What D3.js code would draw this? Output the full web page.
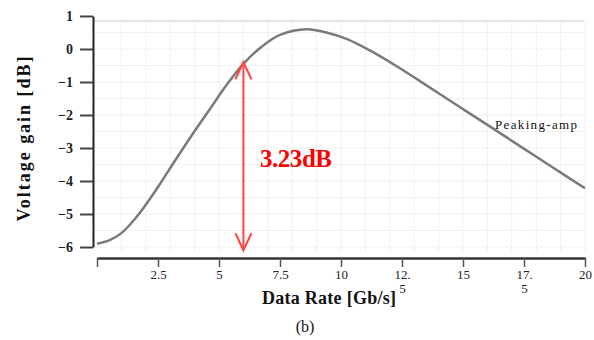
<!DOCTYPE html>
<html>
<head>
<meta charset="utf-8">
<script src="https://cdn.jsdelivr.net/npm/d3@7"></script>
<style>
  body { margin: 0; background: #fff; }
  svg { display: block; }
  svg text { font-family: "Liberation Serif", "DejaVu Serif", serif; }
</style>
</head>
<body>
<svg id="chart" width="594" height="340"></svg>
<script>
// data
const rate = [0, 0.5, 1, 1.4, 1.75, 2.5, 3.2, 3.9, 4.6, 5.3, 6.0, 6.8, 7.5, 8.6, 9.4, 10.25, 11.2, 12.3, 13.25, 14.6, 16, 17.35, 18.7, 20];
const gain = [-5.9, -5.8, -5.58, -5.28, -4.97, -4.18, -3.38, -2.6, -1.85, -1.1, -0.45, 0.1, 0.43, 0.6, 0.5, 0.3, -0.05, -0.53, -0.98, -1.63, -2.3, -2.95, -3.6, -4.22];
const xTicks = [0, 2.5, 5, 7.5, 10, 12.5, 15, 17.5, 20];
const xTickLabels = ["", "2.5", "5", "7.5", "10", "12.|5", "15", "17.|5", "20"];
const yTicks = [1, 0, -1, -2, -3, -4, -5, -6];
const arrowX = 6.0;
const arrowY = [-0.4, -6.1];

const svg = d3.select("#chart");

const x = d3.scaleLinear().domain([0, 20]).range([97, 585]);
const y = d3.scaleLinear().domain([-6, 1]).range([247, 16]);

// grid
const grid = svg.append("g");
grid.selectAll("line.v")
  .data(d3.range(1, 21))
  .enter().append("line")
    .attr("x1", d => x(d)).attr("x2", d => x(d))
    .attr("y1", 21).attr("y2", 252)
    .attr("stroke", "#f0f0f0");
grid.selectAll("line.h")
  .data(d3.range(-6, 1, 0.5))
  .enter().append("line")
    .attr("x1", 95).attr("x2", 584)
    .attr("y1", d => y(d)).attr("y2", d => y(d))
    .attr("stroke", "#f0f0f0");
grid.append("line")
  .attr("x1", 95).attr("x2", 584)
  .attr("y1", 21).attr("y2", 21)
  .attr("stroke", "#ddd").attr("stroke-width", 1.5);

// y axis
const yAxis = svg.append("g")
  .attr("transform", "translate(93,0)")
  .call(d3.axisLeft(y).tickValues(yTicks).tickSize(13).tickSizeOuter(0).tickFormat(d3.format("d")));
yAxis.attr("font-family", null);
yAxis.select(".domain").attr("stroke", "#222").attr("stroke-width", 2);
yAxis.selectAll(".tick line").attr("stroke", "#444").attr("stroke-width", 2);
yAxis.selectAll(".tick text")
  .attr("x", -20)
  .style("font-size", "14px")
  .style("font-weight", "bold")
  .attr("fill", "#222");

// x axis
const xAxis = svg.append("g")
  .attr("transform", "translate(0,258)")
  .call(d3.axisBottom(x).tickValues(xTicks).tickSize(9).tickSizeOuter(0).tickFormat((d, i) => xTickLabels[i]));
xAxis.attr("font-family", null);
xAxis.select(".domain").attr("stroke", "#333").attr("stroke-width", 2.5);
xAxis.selectAll(".tick line").attr("stroke", "#555").attr("stroke-width", 1.5);
xAxis.selectAll(".tick text")
  .style("font-size", "13px")
  .attr("fill", "#222")
  .attr("y", 12)
  .each(function () {
    const t = d3.select(this);
    const parts = t.text().split("|");
    t.text(null);
    parts.forEach((p, k) => {
      t.append("tspan")
        .attr("x", 0)
        .attr("dy", k === 0 ? "0.71em" : "1.05em")
        .text(p);
    });
  });

// curve
const line = d3.line()
  .x(d => x(d[0]))
  .y(d => y(d[1]))
  .curve(d3.curveCatmullRom.alpha(0.5));
svg.append("path")
  .datum(rate.map((r, i) => [r, gain[i]]))
  .attr("fill", "none")
  .attr("stroke", "#7a7a7a")
  .attr("stroke-width", 2.5)
  .attr("d", line);

// red arrow
const ax = x(arrowX), ay0 = y(arrowY[0]), ay1 = y(arrowY[1]);
const red = "#ff4646";
svg.append("line")
  .attr("x1", ax).attr("x2", ax).attr("y1", ay0).attr("y2", ay1)
  .attr("stroke", red).attr("stroke-width", 2);
svg.append("path")
  .attr("d", `M${ax - 8},${ay0 + 17}L${ax},${ay0}L${ax + 8},${ay0 + 17}M${ax - 8},${ay1 - 17}L${ax},${ay1}L${ax + 8},${ay1 - 17}`)
  .attr("fill", "none").attr("stroke", red).attr("stroke-width", 2);
svg.append("text")
  .attr("x", 260).attr("y", 167)
  .attr("fill", "#ff0000")
  .style("font-size", "25px")
  .style("font-weight", "bold")
  .attr("textLength", 72)
  .text("3.23dB");

// series label
svg.append("text")
  .attr("x", 495).attr("y", 129)
  .attr("fill", "#111")
  .style("font-size", "13px")
  .attr("textLength", 82)
  .text("Peaking-amp");

// axis titles
svg.append("text")
  .attr("transform", "translate(30,139) rotate(-90)")
  .attr("text-anchor", "middle")
  .style("font-size", "18px")
  .style("font-weight", "bold")
  .attr("fill", "#111")
  .attr("textLength", 165)
  .text("Voltage  gain [dB]");
svg.append("text")
  .attr("x", 329).attr("y", 304)
  .attr("text-anchor", "middle")
  .style("font-size", "18px")
  .style("font-weight", "bold")
  .attr("fill", "#111")
  .attr("textLength", 134)
  .text("Data Rate [Gb/s]");
svg.append("text")
  .attr("x", 305).attr("y", 332)
  .attr("text-anchor", "middle")
  .style("font-size", "16px")
  .attr("fill", "#111")
  .text("(b)");
</script>
</body>
</html>
